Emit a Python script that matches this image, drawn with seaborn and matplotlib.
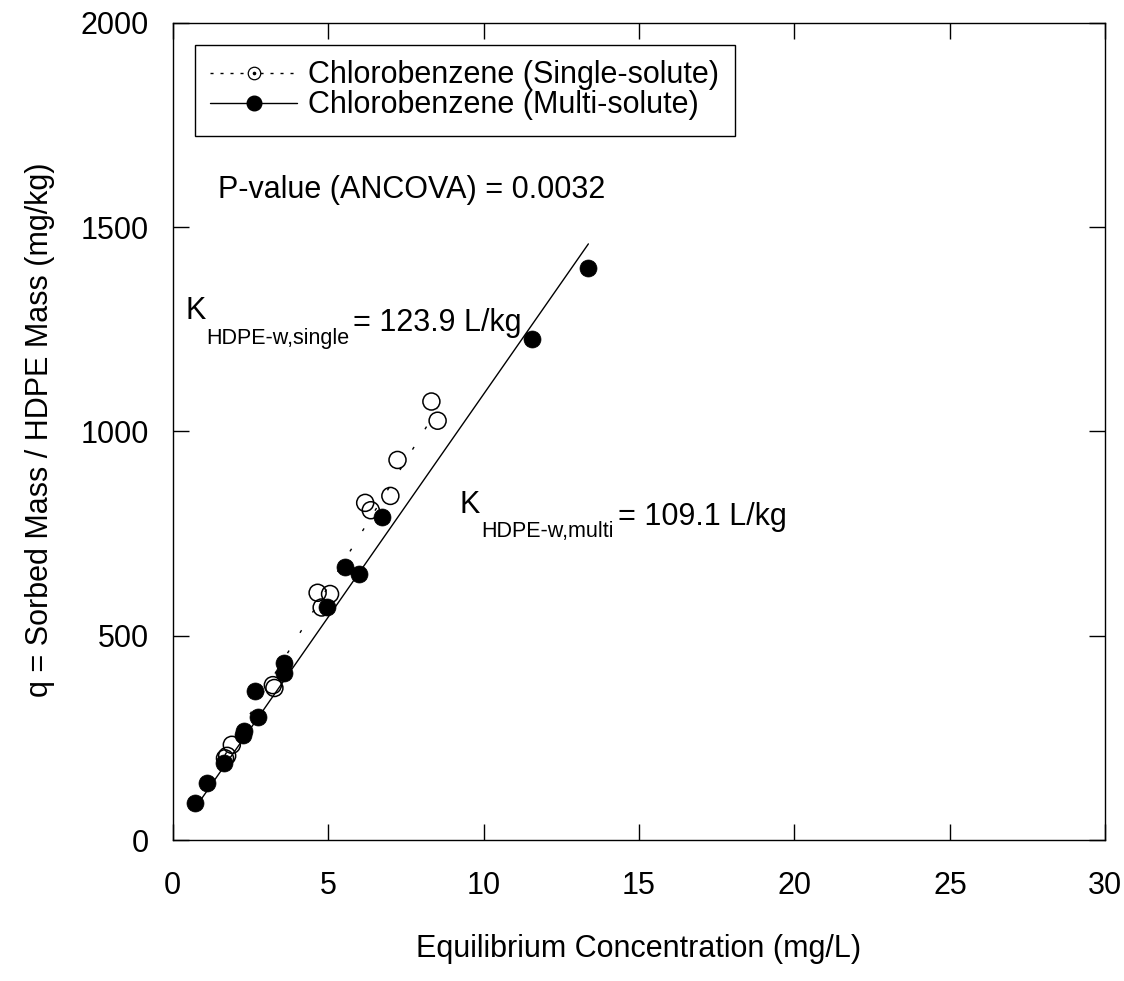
import numpy as np
import pandas as pd
import matplotlib
matplotlib.use("Agg")
import matplotlib.pyplot as plt
from matplotlib.lines import Line2D
from matplotlib.legend_handler import HandlerTuple
import seaborn as sns

# Equilibrium concentration (mg/L) and sorbed amount (mg/kg)
single_C = [1.68, 1.75, 1.90, 3.22, 3.27, 4.66, 5.06, 4.79, 6.19, 6.37, 7.00, 7.23, 8.32, 8.52]
single_q = [200, 206, 233, 379, 372, 605, 602, 569, 825, 807, 842, 930, 1073, 1026]

multi_C = [0.70, 1.11, 1.64, 2.25, 2.30, 2.75, 2.65, 3.57, 3.59, 4.97, 5.54, 5.98, 6.72, 11.55, 13.37]
multi_q = [90, 139, 189, 258, 268, 300, 364, 433, 409, 571, 667, 651, 790, 1225, 1399]

# Linear partition coefficients (L/kg)
K_single = 123.9
K_multi = 109.1
p_value = "0.0032"

x_ticks = [0, 5, 10, 15, 20, 25, 30]
y_ticks = [0, 500, 1000, 1500, 2000]

sns.set_theme(style="ticks")
plt.rcParams["font.family"] = ["Liberation Sans", "DejaVu Sans"]
plt.rcParams["text.color"] = "black"

fig = plt.figure(figsize=(11.24, 9.81), dpi=100)
ax = fig.add_axes([0.1537, 0.1437, 0.8297, 0.8332])

single_df = pd.DataFrame({"C": single_C, "q": single_q})
multi_df = pd.DataFrame({"C": multi_C, "q": multi_q})

# fitted isotherms q = K * C over each data range
fit_s = pd.DataFrame({"C": [min(single_C), max(single_C)]})
fit_s["q"] = K_single * fit_s["C"]
fit_m = pd.DataFrame({"C": [min(multi_C), max(multi_C)]})
fit_m["q"] = K_multi * fit_m["C"]

sns.lineplot(data=fit_s, x="C", y="q", ax=ax, color="black", lw=1.0,
             dashes=False, zorder=2).lines[-1].set_dashes((2.2, 15))
sns.lineplot(data=fit_m, x="C", y="q", ax=ax, color="black", lw=1.0, zorder=2)

sns.scatterplot(data=single_df, x="C", y="q", ax=ax, s=150, marker="o",
                facecolor="none", edgecolor="black", linewidth=1.1, zorder=3)
sns.scatterplot(data=multi_df, x="C", y="q", ax=ax, s=150, marker="o",
                color="black", edgecolor="black", linewidth=0.5, zorder=4)

ax.set_xlim(0, 30)
ax.set_ylim(0, 2000)
ax.set_xticks(x_ticks)
ax.set_yticks(y_ticks)

for s in ax.spines.values():
    s.set_color("black")
    s.set_linewidth(1.0)
    s.set_visible(True)

ax.tick_params(axis="both", which="major", direction="in", length=11.5, width=1.0,
               colors="black", labelsize=22, top=True, right=True)
ax.tick_params(axis="x", pad=22)
ax.tick_params(axis="y", pad=17)

ax.set_xlabel("Equilibrium Concentration (mg/L)", fontsize=22, labelpad=24, color="black")
ax.set_ylabel("q = Sorbed Mass / HDPE Mass (mg/kg)", fontsize=22, color="black")
ax.yaxis.set_label_coords(-0.126, 0.5016)

# annotations
ax.text(1.457, 1571, f"P-value (ANCOVA) = {p_value}", fontsize=22, color="black",
        ha="left", va="baseline")


def k_label(x, y, sub, value):
    k = ax.text(x, y, "K", fontsize=22, color="black", ha="left", va="baseline")
    sb = ax.annotate(sub, xy=(1.0, 0.0), xycoords=k, xytext=(0.5, -12.5),
                     textcoords="offset points", fontsize=15.5, color="black",
                     ha="left", va="baseline")
    ax.annotate(f"= {value} L/kg", xy=(1.0, 0.0), xycoords=sb, xytext=(3, 12.5),
                textcoords="offset points", fontsize=22, color="black",
                ha="left", va="baseline")


k_label(0.396, 1274, "HDPE-w,single", K_single)
k_label(9.24, 800, "HDPE-w,multi", K_multi)

# legend
h_single = (
    Line2D([], [], color="black", lw=1.0, dashes=(2.2, 5), marker="o", markersize=9,
           markerfacecolor="white", markeredgecolor="black", markeredgewidth=0.9),
    Line2D([], [], ls="none", marker="o", markersize=1.6, color="black"),
)
h_multi = Line2D([], [], color="black", lw=1.0, marker="o", markersize=10.5,
                 markerfacecolor="black", markeredgecolor="black")
leg = ax.legend([h_single, h_multi],
                ["Chlorobenzene (Single-solute)", "Chlorobenzene (Multi-solute)"],
                handler_map={tuple: HandlerTuple(ndivide=1, pad=0)},
                loc="upper left", bbox_to_anchor=(0.0239, 0.9724), borderaxespad=0,
                fontsize=22, handlelength=2.85, handletextpad=0.36, labelspacing=0.0,
                borderpad=0.5, frameon=True, fancybox=False, framealpha=1,
                edgecolor="black")
leg.get_frame().set_linewidth(1.0)
for t in leg.get_texts():
    t.set_color("black")

fig.savefig("out.png", dpi=100)
